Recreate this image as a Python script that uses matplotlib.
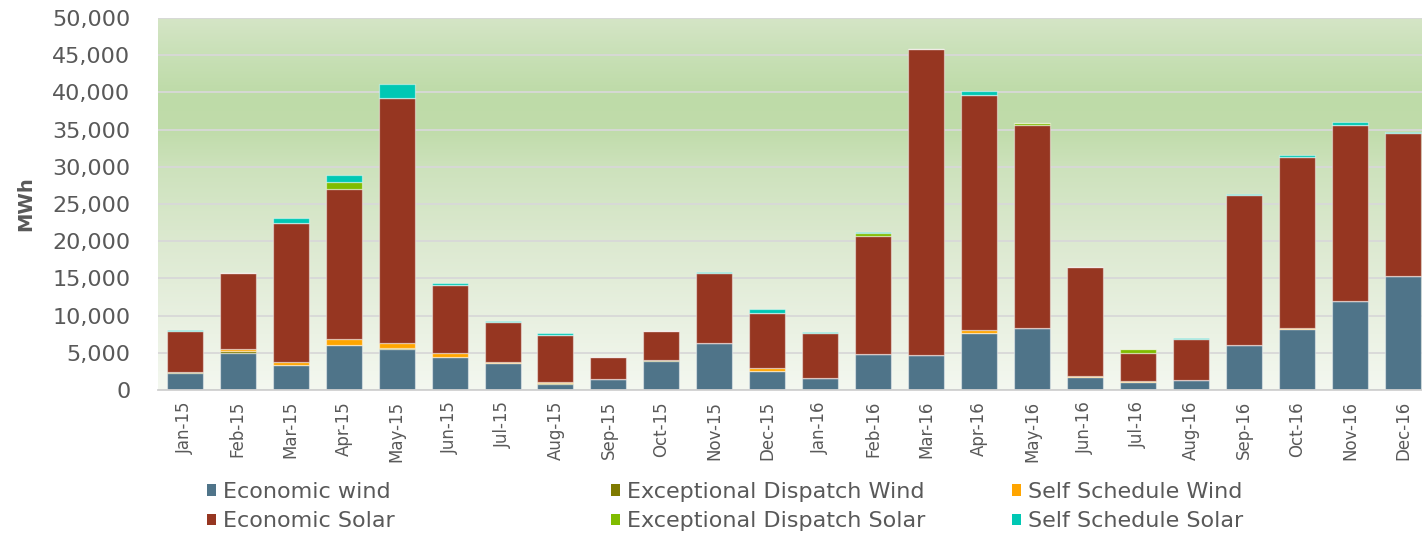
import numpy as np
import matplotlib
matplotlib.use("Agg")
import matplotlib.pyplot as plt
from matplotlib.colors import LinearSegmentedColormap
from matplotlib.ticker import FuncFormatter, MultipleLocator
from matplotlib.patches import Patch

months = ["Jan-15", "Feb-15", "Mar-15", "Apr-15", "May-15", "Jun-15", "Jul-15", "Aug-15",
          "Sep-15", "Oct-15", "Nov-15", "Dec-15", "Jan-16", "Feb-16", "Mar-16", "Apr-16",
          "May-16", "Jun-16", "Jul-16", "Aug-16", "Sep-16", "Oct-16", "Nov-16", "Dec-16"]

economic_wind = [2300, 4930, 3310, 6050, 5510, 4390, 3580, 760, 1520, 3940, 6270, 2550,
                 1610, 4840, 4660, 7620, 8330, 1790, 1120, 1340, 6000, 8150, 11920, 15370]
exceptional_wind = [100, 300, 50, 0, 100, 0, 0, 150, 0, 150, 0, 0,
                    0, 0, 0, 0, 0, 0, 0, 0, 0, 0, 0, 0]
self_sched_wind = [0, 250, 350, 800, 700, 600, 200, 150, 0, 0, 0, 400,
                   0, 0, 100, 450, 0, 100, 100, 0, 100, 150, 0, 0]
economic_solar = [5500, 10200, 18780, 20210, 32940, 9080, 5360, 6290, 2870, 3880, 9460, 7400,
                  6050, 15860, 41030, 31530, 27330, 14690, 3800, 5560, 20150, 22970, 23740, 19130]
exceptional_solar = [0, 0, 0, 950, 0, 0, 0, 100, 100, 0, 0, 0,
                     0, 350, 0, 0, 200, 0, 450, 0, 0, 0, 0, 0]
self_sched_solar = [150, 100, 600, 850, 1900, 300, 130, 150, 0, 0, 130, 500,
                    130, 170, 100, 550, 0, 0, 100, 130, 130, 350, 350, 130]

series = [
    ("Economic wind", economic_wind, "#4F7489"),
    ("Exceptional Dispatch Wind", exceptional_wind, "#7F7A00"),
    ("Self Schedule Wind", self_sched_wind, "#FFA500"),
    ("Economic Solar", economic_solar, "#963621"),
    ("Exceptional Dispatch Solar", exceptional_solar, "#80BC00"),
    ("Self Schedule Solar", self_sched_solar, "#00C8B4"),
]

fig = plt.figure(figsize=(14.22, 5.36), dpi=100)
ax = fig.add_axes([158.2 / 1422, 146 / 536, (1429.5 - 158.2) / 1422, 372 / 536])

x = np.arange(len(months))
xmin, xmax = -0.5, len(months) - 0.5
ax.set_xlim(xmin, xmax)
ax.set_ylim(0, 50000)

# background gradient
stops = [(0.0, (244, 248, 240)), (0.2, (232, 240, 224)), (0.4, (220, 233, 208)),
         (0.6, (205, 226, 188)), (0.7, (192, 220, 170)), (0.8, (190, 219, 168)),
         (0.9, (200, 224, 182)), (1.0, (213, 229, 198))]
cmap = LinearSegmentedColormap.from_list("bg", [(p, tuple(c / 255 for c in col)) for p, col in stops])
grad = np.linspace(0, 1, 512).reshape(-1, 1)
ax.imshow(grad, aspect="auto", cmap=cmap, origin="lower", interpolation="bilinear",
          extent=[xmin, xmax, 0, 50000], zorder=0)

ax.yaxis.set_major_locator(MultipleLocator(5000))
ax.grid(axis="y", color="#D8D8D8", linewidth=1.3, zorder=1)
ax.set_axisbelow(True)

bottom = np.zeros(len(months))
for name, vals, col in series:
    v = np.array(vals, dtype=float)
    ax.bar(x, v, width=0.68, bottom=bottom, color=col,
           edgecolor=(1, 1, 1, 0.45), linewidth=0.9, zorder=2)
    bottom += v

for s in ["top", "right", "left"]:
    ax.spines[s].set_visible(False)
ax.spines["bottom"].set_color("#D0D0D0")
ax.spines["bottom"].set_linewidth(1.3)

ax.yaxis.set_major_formatter(FuncFormatter(lambda v, p: f"{int(v):,}"))
ax.tick_params(axis="y", length=0, pad=20, labelsize=16, labelcolor="#595959")
ax.tick_params(axis="x", length=0, pad=8, labelsize=12, labelcolor="#595959")
ax.set_xticks(x)
ax.set_xticklabels(months, rotation=90)
ax.set_ylabel("MWh", fontsize=14, fontweight="bold", color="#595959", labelpad=12)

# legend: three columns
cols = [(0, 3), (1, 4), (2, 5)]
xs = [207, 611, 1012]
for (i, j), xp in zip(cols, xs):
    handles = [Patch(facecolor=series[k][2], edgecolor="none") for k in (i, j)]
    labels = [series[k][0] for k in (i, j)]
    fig.legend(handles, labels, loc="upper left", bbox_to_anchor=(xp / 1422, 1 - 482 / 536),
               frameon=False, fontsize=16, handlelength=0.42, handleheight=0.42,
               handletextpad=0.3, labelspacing=0.42, borderaxespad=0, borderpad=0,
               labelcolor="#595959")

fig.savefig("out.png", dpi=100)
